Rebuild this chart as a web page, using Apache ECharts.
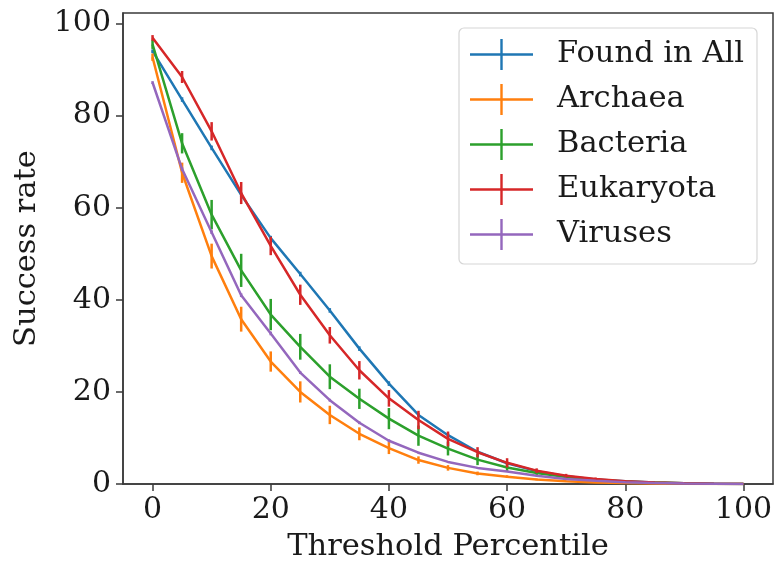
<!DOCTYPE html>
<html>
<head>
<meta charset="utf-8">
<script src="https://cdn.jsdelivr.net/npm/echarts@6/dist/echarts.min.js"></script>
<style>
  html, body { margin: 0; padding: 0; background: #fff; }
  #chart { width: 774px; height: 561px; }
</style>
</head>
<body>
<div id="chart"></div>
<script>
// Threshold percentiles on the x axis
const thresholds = [0, 5, 10, 15, 20, 25, 30, 35, 40, 45, 50, 55, 60, 65, 70, 75, 80, 85, 90, 95, 100];
const tickValues = [0, 20, 40, 60, 80, 100];

// Success rate (%) per group, with error-bar half-widths
const foundInAll    = [94.0, 83.5, 73.0, 62.8, 53.4, 45.6, 37.7, 29.4, 21.8, 15.0, 10.6, 7.0, 4.5, 2.8, 1.7, 1.0, 0.6, 0.3, 0.15, 0.05, 0.0];
const foundInAllErr = [0.4, 0.5, 0.5, 0.5, 0.5, 0.5, 0.5, 0.5, 0.5, 0.4, 0.4, 0.3, 0.3, 0.2, 0.2, 0.1, 0.1, 0.05, 0.05, 0.02, 0.0];

const archaea    = [92.7, 67.6, 49.5, 35.8, 26.6, 20.0, 15.0, 10.9, 7.8, 5.2, 3.5, 2.3, 1.6, 1.0, 0.6, 0.35, 0.2, 0.1, 0.05, 0.02, 0.0];
const archaeaErr = [0.8, 2.2, 2.7, 2.7, 2.2, 2.3, 2.0, 1.4, 1.3, 0.8, 0.6, 0.4, 0.3, 0.2, 0.1, 0.1, 0.05, 0.03, 0.02, 0.01, 0.0];

const bacteria    = [95.5, 74.0, 58.5, 46.4, 36.8, 29.8, 23.3, 18.5, 14.2, 10.5, 7.7, 5.3, 3.6, 2.4, 1.5, 0.9, 0.5, 0.3, 0.15, 0.05, 0.0];
const bacteriaErr = [1.0, 2.2, 3.2, 3.6, 3.4, 2.8, 2.7, 2.2, 2.3, 2.2, 1.5, 1.2, 0.9, 0.6, 0.4, 0.25, 0.15, 0.1, 0.05, 0.02, 0.0];

const eukaryota    = [96.9, 88.4, 76.6, 63.2, 51.7, 41.1, 32.3, 24.7, 18.6, 13.9, 9.8, 6.9, 4.6, 2.9, 1.8, 1.1, 0.6, 0.3, 0.15, 0.05, 0.0];
const eukaryotaErr = [0.6, 1.3, 2.0, 2.4, 2.0, 2.2, 1.8, 2.0, 1.8, 2.0, 1.6, 1.1, 1.0, 0.5, 0.4, 0.3, 0.15, 0.1, 0.05, 0.02, 0.0];

const viruses    = [87.2, 68.4, 54.7, 41.0, 32.7, 24.2, 18.2, 13.3, 9.4, 6.8, 4.8, 3.5, 2.7, 1.8, 1.1, 0.7, 0.4, 0.2, 0.1, 0.05, 0.0];
const virusesErr = [0.3, 0.4, 0.4, 0.4, 0.4, 0.3, 0.3, 0.3, 0.3, 0.2, 0.2, 0.2, 0.1, 0.1, 0.1, 0.05, 0.05, 0.02, 0.01, 0.01, 0.0];

const groups = [
  { name: 'Found in All', values: foundInAll, errors: foundInAllErr, color: '#1f77b4' },
  { name: 'Archaea',      values: archaea,    errors: archaeaErr,    color: '#ff7f0e' },
  { name: 'Bacteria',     values: bacteria,   errors: bacteriaErr,   color: '#2ca02c' },
  { name: 'Eukaryota',    values: eukaryota,  errors: eukaryotaErr,  color: '#d62728' },
  { name: 'Viruses',      values: viruses,    errors: virusesErr,    color: '#9467bd' }
];

const FONT = 'DejaVu Serif';
const TEXT = '#1a1a1a';
const SPINE = '#3a3a3a';
const LINE_W = 2.5;

// Legend handle: horizontal line crossed by a vertical error bar
const crossIcon = 'path://M0 14.3 L30.3 14.3 L30.3 0 L32.7 0 L32.7 14.3 L63 14.3 L63 16.7 L32.7 16.7 L32.7 31 L30.3 31 L30.3 16.7 L0 16.7 Z';

const series = [];
groups.forEach((g, gi) => {
  series.push({
    name: g.name,
    type: 'line',
    data: thresholds.map((t, i) => [t, g.values[i]]),
    showSymbol: false,
    symbol: 'none',
    lineStyle: { color: g.color, width: LINE_W },
    itemStyle: { color: g.color },
    z: 2 + gi * 2,
    animation: false
  });
  series.push({
    name: g.name + ' error',
    type: 'custom',
    data: thresholds.map((t, i) => [t, g.values[i] - g.errors[i], g.values[i] + g.errors[i]]),
    renderItem: (params, api) => {
      const x = api.value(0);
      const p1 = api.coord([x, api.value(1)]);
      const p2 = api.coord([x, api.value(2)]);
      return {
        type: 'line',
        shape: { x1: p1[0], y1: p1[1], x2: p2[0], y2: p2[1] },
        style: { stroke: g.color, lineWidth: LINE_W }
      };
    },
    encode: { x: 0, y: [1, 2] },
    z: 3 + gi * 2,
    animation: false,
    silent: true
  });
});

const chart = echarts.init(document.getElementById('chart'), null, { renderer: 'canvas' });
chart.setOption({
  backgroundColor: '#ffffff',
  animation: false,
  grid: {
    left: 123, right: 1, top: 13, bottom: 77,
    outerBoundsMode: 'none',
    containLabel: false,
    show: true, borderColor: SPINE, borderWidth: 1.5, backgroundColor: 'transparent'
  },
  legend: {
    orient: 'vertical',
    left: 459, top: 28,
    padding: [11, 13, 14, 11],
    itemWidth: 63, itemHeight: 31, itemGap: 14,
    backgroundColor: 'rgba(255,255,255,0.85)',
    borderColor: '#d6d6d6', borderWidth: 1.2, borderRadius: 5,
    textStyle: { fontFamily: FONT, fontSize: 30.5, lineHeight: 31, color: TEXT, padding: [0, 0, 0, 19] },
    data: groups.map(g => ({ name: g.name, icon: crossIcon, itemStyle: { color: g.color } })),
    selectedMode: false
  },
  xAxis: {
    type: 'value',
    min: -5, max: 105,
    name: 'Threshold Percentile',
    nameLocation: 'middle',
    nameGap: 48,
    nameTextStyle: { fontFamily: FONT, fontSize: 30.5, color: TEXT },
    axisLine: { show: true, onZero: false, lineStyle: { color: SPINE, width: 1.5 } },
    axisTick: { show: true, length: 7, lineStyle: { color: SPINE, width: 1.5 }, customValues: tickValues },
    axisLabel: { fontFamily: FONT, fontSize: 30, color: TEXT, margin: 11, customValues: tickValues },
    splitLine: { show: false }
  },
  yAxis: {
    type: 'value',
    min: 0, max: 102.3,
    name: 'Success rate',
    nameLocation: 'middle',
    nameGap: 77,
    nameTextStyle: { fontFamily: FONT, fontSize: 30.5, color: TEXT },
    axisLine: { show: true, onZero: false, lineStyle: { color: SPINE, width: 1.5 } },
    axisTick: { show: true, length: 7, lineStyle: { color: SPINE, width: 1.5 }, customValues: tickValues },
    axisLabel: { fontFamily: FONT, fontSize: 30, color: TEXT, margin: 12, customValues: tickValues },
    splitLine: { show: false }
  },
  series: series
});
</script>
</body>
</html>
